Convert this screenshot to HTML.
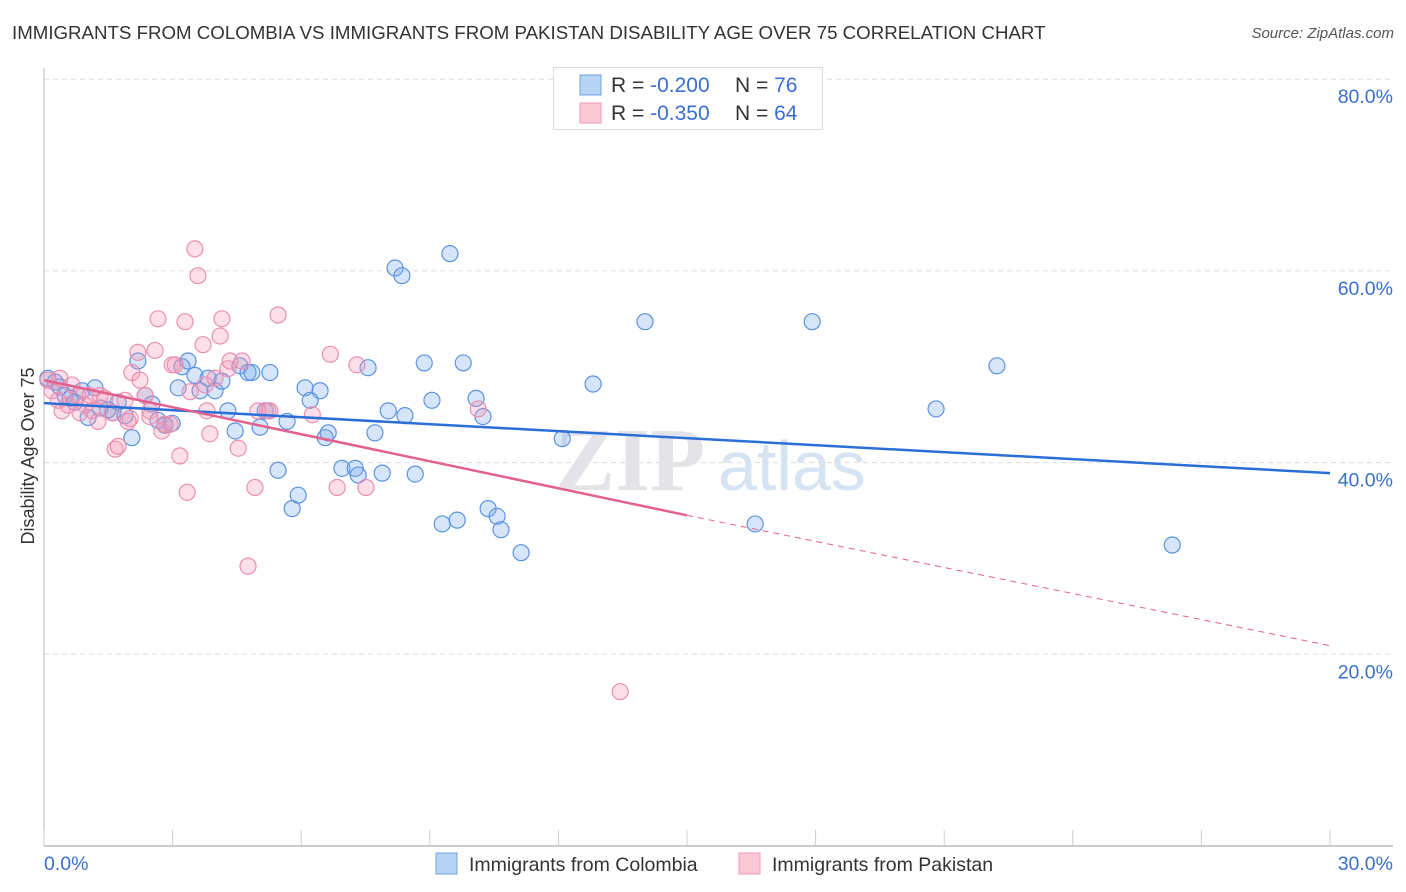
<!DOCTYPE html>
<html><head><meta charset="utf-8">
<style>
body{margin:0;background:#fff;font-family:"Liberation Sans",sans-serif;}
#wrap{position:relative;width:1406px;height:892px;overflow:hidden;}
.t{position:absolute;white-space:nowrap;}
</style></head>
<body>
<div id="wrap">
<div class="t" style="left:12px;top:22px;font-size:18.7px;color:#333;">IMMIGRANTS FROM COLOMBIA VS IMMIGRANTS FROM PAKISTAN DISABILITY AGE OVER 75 CORRELATION CHART</div>
<div class="t" style="right:12px;top:25px;font-size:15px;color:#555;font-style:italic;">Source: ZipAtlas.com</div>
<svg id="svg" width="1406" height="892" style="position:absolute;left:0;top:0"></svg>
</div>
<script>
const xTicks=[0,30];
const yTicks=[20,40,60,80];
const blueX=[0.09,0.26,0.37,0.49,0.61,0.72,0.89,1.03,1.19,1.31,1.49,1.61,1.73,1.89,2.05,2.19,2.36,2.52,2.66,2.82,2.99,3.13,3.22,3.36,3.52,3.64,3.83,3.99,4.15,4.29,4.46,4.57,4.76,4.85,5.04,5.16,5.27,5.46,5.67,5.79,5.93,6.09,6.21,6.44,6.56,6.63,6.95,7.26,7.33,7.56,7.72,7.89,8.03,8.19,8.35,8.42,8.66,8.87,9.05,9.29,9.47,9.64,9.78,10.08,10.24,10.36,10.57,10.66,11.13,12.09,12.81,14.02,16.59,17.92,20.81,22.23,26.32];
const blueY=[48.8,48.4,47.9,47.0,46.7,46.3,47.5,44.7,47.8,45.7,45.5,45.2,46.3,44.9,42.6,50.6,47.0,46.1,44.4,43.9,44.1,47.8,50.0,50.6,49.1,47.5,48.8,47.5,48.5,45.4,43.3,50.1,49.4,49.4,43.7,45.4,49.4,39.2,44.3,35.2,36.6,47.8,46.5,47.5,42.6,43.1,39.4,39.4,38.7,49.9,43.1,38.9,45.4,60.3,59.5,44.9,38.8,50.4,46.5,33.6,61.8,34.0,50.4,46.7,44.8,35.2,34.4,33.0,30.6,42.5,48.2,54.7,33.6,54.7,45.6,50.1,31.4];
const pinkX=[0.09,0.19,0.33,0.42,0.56,0.65,0.79,0.96,1.12,1.26,1.42,1.59,1.66,1.73,1.89,1.96,2.05,2.19,2.24,2.36,2.47,2.59,2.66,2.75,2.94,2.99,3.17,3.29,3.34,3.41,3.52,3.59,3.71,3.80,3.87,3.99,4.11,4.15,4.29,4.53,4.62,4.92,4.99,5.22,5.46,6.26,6.68,6.84,7.30,7.51,10.13,13.44,4.76,1.07,0.37,1.31,2.01,2.82,3.76,4.34,5.27,3.06,2.47,0.84];
const pinkY=[48.6,47.5,46.5,45.4,46.0,48.1,47.0,46.0,45.4,44.3,46.7,45.2,41.4,41.7,46.5,44.3,49.4,51.5,48.6,47.0,45.4,51.7,55.0,43.3,44.0,50.2,40.7,54.7,36.9,47.4,62.3,59.5,52.3,45.4,43.0,48.8,53.2,55.0,49.8,41.5,50.6,37.4,45.4,45.4,55.4,45.0,51.3,37.4,50.2,37.4,45.6,16.1,29.2,47.0,48.8,47.0,44.6,44.0,48.1,50.6,45.4,50.2,44.8,45.2];
const blueTrend=[-0.200,46.2,38.9];
const pinkTrend=[-0.350,48.6,34.5,20.9];
const svg=document.getElementById('svg');const NS='http://www.w3.org/2000/svg';
const X=v=>44+v/30*1286, Y=v=>846-v*9.585;
function el(tag,attrs,name,par){const e=document.createElementNS(NS,tag);for(const k in attrs)e.setAttribute(k,attrs[k]);


(par||svg).appendChild(e);return e;}
yTicks.forEach(v=>{el('line',{x1:44,x2:1393,y1:Y(v),y2:Y(v),stroke:'#ddd','stroke-dasharray':'5,4'},'gridline-y-'+v);
const t=el('text',{x:1393,y:Y(v)+24,'text-anchor':'end',fill:'#3a6fd0','font-size':19.5,'font-family':'Liberation Sans'},'y-tick-label-'+v);t.textContent=v.toFixed(1)+'%';});
el('line',{x1:44,x2:44,y1:68,y2:846,stroke:'#bbb'},'y-axis-line');
el('line',{x1:44,x2:1393,y1:846,y2:846,stroke:'#bbb','stroke-width':1.5},'x-axis-line');
for(let i=0;i<=10;i++){el('line',{x1:X(i*3),x2:X(i*3),y1:830,y2:846,stroke:'#ccc'},'x-tick-'+i);}
xTicks.forEach(v=>{const t=el('text',{x:v==0?44:1393,y:870,'text-anchor':v==0?'start':'end',fill:'#3a6fd0','font-size':19.5,'font-family':'Liberation Sans'},'x-tick-label-'+v);t.textContent=v.toFixed(1)+'%';});
const yt=el('text',{x:34,y:456,'text-anchor':'middle',fill:'#333','font-size':18,'font-family':'Liberation Sans',transform:'rotate(-90 34 456)'},'y-axis-title');yt.textContent='Disability Age Over 75';
const w1=el('text',{x:555,y:490,fill:'#e4e4e8','font-size':90,'font-family':'Liberation Serif','font-weight':'bold'},'watermark-zip');w1.textContent='ZIP';
const w2=el('text',{x:718,y:490,fill:'#d6e3f3','font-size':70,'font-family':'Liberation Sans'},'watermark-atlas');w2.textContent='atlas';
blueX.forEach((x,i)=>el('circle',{cx:X(x),cy:Y(blueY[i]),r:8,fill:'rgba(120,170,235,0.3)',stroke:'#5b93e0','stroke-width':1.2},'colombia-point'));
pinkX.forEach((x,i)=>el('circle',{cx:X(x),cy:Y(pinkY[i]),r:8,fill:'rgba(245,150,180,0.3)',stroke:'#eb8fb0','stroke-width':1.2},'pakistan-point'));
el('line',{x1:X(0),y1:Y(blueTrend[1]),x2:X(30),y2:Y(blueTrend[2]),stroke:'#2a6fd6','stroke-width':2.5},'colombia-trend-line');
el('line',{x1:X(0),y1:Y(pinkTrend[1]),x2:X(15),y2:Y(pinkTrend[2]),stroke:'#e4608e','stroke-width':2.5},'pakistan-trend-line');
el('line',{x1:X(15),y1:Y(pinkTrend[2]),x2:X(30),y2:Y(pinkTrend[3]),stroke:'#e4608e','stroke-width':1,'stroke-dasharray':'6,5'},'pakistan-trend-extension');
const g=el('g',{},'legend');
el('rect',{x:553.5,y:67.5,width:269,height:62,fill:'#fff',stroke:'#ddd'},'legend-box',g);
[['#b8d3f5','#6f9fe0','-0.200','76',85],['#fcc8d8','#ee9ab8','-0.350','64',113]].forEach((d,i)=>{
el('rect',{x:580,y:d[4]-10,width:21,height:20,fill:d[0],stroke:d[1]},'legend-swatch-'+i,g);
const t=el('text',{x:611,y:d[4]+7,'font-size':21,'font-family':'Liberation Sans',fill:'#333'},'legend-entry-'+i,g);
t.innerHTML='R = <tspan fill="#3a6fd0"> '+d[2]+'</tspan><tspan x="735">N = </tspan><tspan fill="#3a6fd0"> '+d[3]+'</tspan>';});
[['#b8d3f5','#6f9fe0','Immigrants from Colombia',436],['#fcc8d8','#ee9ab8','Immigrants from Pakistan',739]].forEach((d,i)=>{
el('rect',{x:d[3],y:853,width:21,height:21,fill:d[0],stroke:d[1]},'bottom-legend-swatch-'+i);
const t=el('text',{x:d[3]+33,y:871,'font-size':19.5,'font-family':'Liberation Sans',fill:'#333'},'bottom-legend-label-'+i);t.textContent=d[2];});
</script>
</body></html>
